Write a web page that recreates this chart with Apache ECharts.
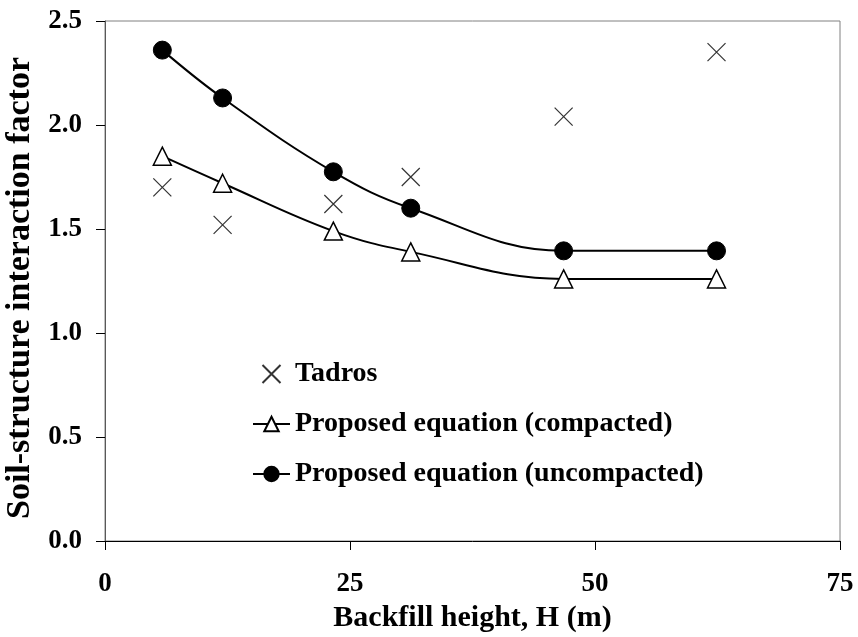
<!DOCTYPE html>
<html>
<head>
<meta charset="utf-8">
<script src="https://cdn.jsdelivr.net/npm/echarts@6/dist/echarts.min.js"></script>
<style>
  html, body { margin: 0; padding: 0; background: #fff; }
  #chart { width: 858px; height: 637px; }
</style>
</head>
<body>
<div id="chart"></div>
<script>
// Backfill heights (m)
var heights = [5.85, 12.0, 23.3, 31.2, 46.8, 62.4];
// Soil-structure interaction factors
var tadros = [1.70, 1.52, 1.62, 1.75, 2.04, 2.35];
var compacted = [1.85, 1.72, 1.49, 1.39, 1.26, 1.26];
var uncompacted = [2.36, 2.13, 1.775, 1.60, 1.395, 1.395];

var xTicks = [0, 25, 50, 75];
var yTicks = [0, 0.5, 1.0, 1.5, 2.0, 2.5];

function pairs(xs, ys) {
  return xs.map(function (x, i) { return [x, ys[i]]; });
}

var FONT = '"Liberation Serif", "Times New Roman", serif';
var crossPath = 'path://M0,0L10,10M10,0L0,10';

var chart = echarts.init(document.getElementById('chart'), null, { renderer: 'canvas' });

chart.setOption({
  animation: false,
  backgroundColor: '#ffffff',
  grid: {
    left: 105, top: 21, right: 18, bottom: 96,
    outerBoundsMode: 'none', containLabel: false,
    show: true, borderColor: '#808080', borderWidth: 1, backgroundColor: 'transparent'
  },
  legend: {
    orient: 'vertical',
    left: 247, top: 355,
    itemWidth: 37, itemHeight: 18, itemGap: 22,
    textStyle: { fontFamily: FONT, fontWeight: 'bold', fontSize: 28, color: '#000' },
    data: ['Tadros', 'Proposed equation (compacted)', 'Proposed equation (uncompacted)']
  },
  xAxis: {
    type: 'value', min: xTicks[0], max: xTicks[xTicks.length - 1], interval: 25,
    name: 'Backfill height, H (m)', nameLocation: 'middle', nameGap: 62,
    nameTextStyle: { fontFamily: FONT, fontWeight: 'bold', fontSize: 30, color: '#000' },
    axisLine: { show: true, lineStyle: { color: '#000', width: 1 } },
    axisTick: { show: true, inside: false, length: 9, lineStyle: { color: '#000' } },
    axisLabel: { fontFamily: FONT, fontWeight: 'bold', fontSize: 27, color: '#000', margin: 30 },
    splitLine: { show: false }
  },
  yAxis: {
    type: 'value', min: yTicks[0], max: yTicks[yTicks.length - 1], interval: 0.5,
    name: 'Soil-structure interaction factor', nameLocation: 'middle', nameGap: 62,
    nameTextStyle: {
      fontFamily: FONT, fontWeight: 'bold', fontSize: 34, color: '#000',
      padding: [0, 14, 0, 0]
    },
    axisLine: { show: true, lineStyle: { color: '#595959', width: 1 } },
    axisTick: { show: true, inside: false, length: 9, lineStyle: { color: '#000' } },
    axisLabel: {
      fontFamily: FONT, fontWeight: 'bold', fontSize: 27, color: '#000', margin: 23,
      formatter: function (v) { return v.toFixed(1); }
    },
    splitLine: { show: false }
  },
  series: [
    {
      name: 'Tadros',
      type: 'scatter',
      data: pairs(heights, tadros),
      symbol: crossPath,
      symbolSize: 18,
      itemStyle: { color: 'none', borderColor: '#000', borderWidth: 1.2 }
    },
    {
      name: 'Proposed equation (compacted)',
      type: 'line',
      data: pairs(heights, compacted),
      smooth: 0.4,
      symbol: 'triangle',
      symbolSize: 18,
      showAllSymbol: true,
      lineStyle: { color: '#000', width: 2 },
      itemStyle: { color: '#fff', borderColor: '#000', borderWidth: 1.5 }
    },
    {
      name: 'Proposed equation (uncompacted)',
      type: 'line',
      data: pairs(heights, uncompacted),
      smooth: 0.4,
      symbol: 'circle',
      symbolSize: 18,
      showAllSymbol: true,
      lineStyle: { color: '#000', width: 2 },
      itemStyle: { color: '#000', borderColor: '#000', borderWidth: 1 }
    }
  ]
});
</script>
</body>
</html>
